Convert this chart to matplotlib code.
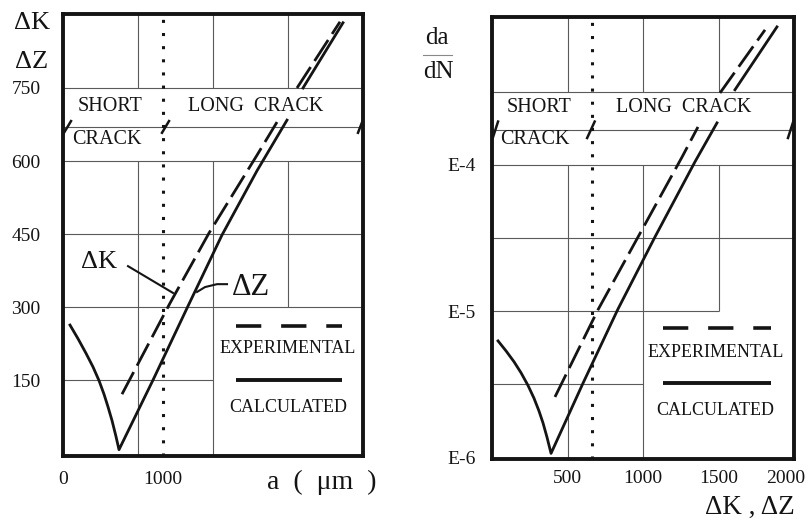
import matplotlib
matplotlib.use("Agg")
import matplotlib.pyplot as plt
from matplotlib.lines import Line2D
from matplotlib.transforms import ScaledTranslation
import numpy as np

plt.rcParams['font.family'] = ['Liberation Serif', 'DejaVu Serif']

INK = '#141414'
GRID = '#5a5a5a'

# ---------------- data: left panel (delta K / delta Z vs crack length a) ----------------
left_xticks = [0, 1000]
left_xticklabels = ['0', '1000']
left_yticks = [150, 300, 450, 600, 750]
left_yticklabels = ['150', '300', '450', '600', '750']

# calculated (solid): V-shaped short crack branch + long crack branch
left_calc_lo_a = [70, 150, 230, 300, 360, 410, 450, 490, 530, 560,
                  900, 1250, 1590, 1940, 2240]
left_calc_lo_v = [263, 235, 205, 177, 149, 121, 95, 67, 34, 7,
                  150, 302, 448, 580, 684]
left_calc_hi_a = [2400, 2800]
left_calc_hi_v = [750, 884]
# experimental (dashed)
left_exp_lo_a = [590, 1070, 1460, 1940, 2140]
left_exp_lo_v = [121, 308, 452, 612, 680]
left_exp_hi_a = [2340, 2770]
left_exp_hi_v = [750, 886]
left_transition = 1000

# ---------------- data: right panel (da/dN vs delta K, delta Z) ----------------
right_xticks = [500, 1000, 1500, 2000]
right_xticklabels = ['500', '1000', '1500', '2000']
right_yticks = [1e-6, 1e-5, 1e-4]
right_yticklabels = ['E-6', 'E-5', 'E-4']

right_calc_lo_x = [40, 93, 146, 192, 238, 278, 311, 338, 364, 391,
                   603, 834, 1079, 1344, 1490]
right_calc_lo_y = [6.24e-6, 5.33e-6, 4.49e-6, 3.78e-6, 3.10e-6, 2.53e-6, 2.07e-6, 1.71e-6, 1.37e-6, 1.06e-6,
                   3.21e-6, 1.03e-5, 3.21e-5, 1.05e-4, 1.94e-4]
right_calc_hi_x = [1609, 1887]
right_calc_hi_y = [3.27e-4, 8.81e-4]
right_exp_lo_x = [417, 702, 967, 1258, 1364]
right_exp_lo_y = [2.58e-6, 1.02e-5, 3.21e-5, 1.13e-4, 1.82e-4]
right_exp_hi_x = [1510, 1808]
right_exp_hi_y = [3.11e-4, 8.41e-4]
right_transition = 660

# ---------------- figure ----------------
W, H = 808, 524
fig = plt.figure(figsize=(W / 100, H / 100), dpi=100)
fig.patch.set_facecolor('white')


def fax(x0, y0, x1, y1):
    return fig.add_axes([x0 / W, 1 - y1 / H, (x1 - x0) / W, (y1 - y0) / H])


CURVE_LW = 2.0
DASH = (0, (9, 2.6))
BAND_FS = 14.5
LEG_FS = 13
TICK_FS = 14

# ======== LEFT ========
axL = fax(63, 14, 363, 456)
axL.set_xlim(0, 3000)
L_lo, L_hi = -6, 902
axL.set_ylim(L_lo, L_hi)
axL.hlines(150, 0, 1500, color=GRID, lw=0.8, zorder=1)
for yv in [300, 450, 600, 670, 750]:
    axL.hlines(yv, 0, 3000, color=GRID, lw=0.8, zorder=1)
for xv in [750, 1500]:
    axL.vlines(xv, L_lo, 600, color=GRID, lw=0.8, zorder=1)
    axL.vlines(xv, 750, L_hi, color=GRID, lw=0.8, zorder=1)
axL.vlines(2250, 300, 600, color=GRID, lw=0.8, zorder=1)
axL.vlines(2250, 750, L_hi, color=GRID, lw=0.8, zorder=1)
axL.axvline(left_transition, color=INK, lw=2.2, ls=(0, (1, 3.3)), zorder=2)
for (xa, xb) in [(10, 80), (990, 1060), (2950, 2995)]:
    axL.plot([xa, xb], [658, 682], color=INK, lw=1.8, zorder=3, clip_on=False)
axL.plot(left_calc_lo_a, left_calc_lo_v, color=INK, lw=CURVE_LW, zorder=4)
axL.plot(left_calc_hi_a, left_calc_hi_v, color=INK, lw=CURVE_LW, zorder=4)
axL.plot(left_exp_lo_a, left_exp_lo_v, color=INK, lw=CURVE_LW, ls=DASH, zorder=4)
axL.plot(left_exp_hi_a, left_exp_hi_v, color=INK, lw=CURVE_LW, ls=DASH, zorder=4)
axL.text(475, 713, 'SHORT', ha='center', va='center', fontsize=BAND_FS, color=INK)
axL.text(95, 645, 'CRACK', ha='left', va='center', fontsize=BAND_FS, color=INK)
axL.text(1930, 713, 'LONG  CRACK', ha='center', va='center', fontsize=BAND_FS, color=INK)
axL.text(360, 392, 'ΔK', ha='center', va='center', fontsize=19, color=INK)
axL.plot([650, 1100], [384, 329], color=INK, lw=1.5, zorder=4)
axL.text(1880, 341, 'ΔZ', ha='center', va='center', fontsize=22, color=INK)
axL.plot([1340, 1420, 1540, 1640], [331, 341, 347, 347], color=INK, lw=1.5, zorder=4)
axL.plot([1730, 2790], [261, 261], color=INK, lw=2.6, ls=(0, (7, 5.5)), solid_capstyle='butt')
axL.text(2250, 214, 'EXPERIMENTAL', ha='center', va='center', fontsize=LEG_FS, color=INK)
axL.plot([1730, 2790], [150, 150], color=INK, lw=2.8, solid_capstyle='butt')
axL.text(2250, 94, 'CALCULATED', ha='center', va='center', fontsize=LEG_FS, color=INK)

axL.set_xticks(left_xticks, left_xticklabels)
axL.set_yticks(left_yticks, left_yticklabels)
axL.tick_params(axis='both', length=0, labelsize=TICK_FS, colors=INK)
axL.tick_params(axis='y', pad=16)
axL.tick_params(axis='x', pad=11)
for s in axL.spines.values():
    s.set_linewidth(2.8)
    s.set_color(INK)

# ======== RIGHT ========
axR = fax(492, 17, 794, 459)
axR.set_yscale('log')
axR.set_xlim(0, 2000)
R_lo, R_hi = 0.97e-6, 1.03e-3
axR.set_ylim(R_lo, R_hi)
yb = 10 ** -3.76
axR.hlines(10 ** -5.5, 0, 1000, color=GRID, lw=0.8, zorder=1)
axR.hlines(1e-5, 0, 1500, color=GRID, lw=0.8, zorder=1)
for yv in [10 ** -4.5, 1e-4, yb, 10 ** -3.5]:
    axR.hlines(yv, 0, 2000, color=GRID, lw=0.8, zorder=1)
for xv in [500, 1000]:
    axR.vlines(xv, R_lo, 1e-4, color=GRID, lw=0.8, zorder=1)
    axR.vlines(xv, 10 ** -3.5, R_hi, color=GRID, lw=0.8, zorder=1)
axR.vlines(1500, 1e-5, 1e-4, color=GRID, lw=0.8, zorder=1)
axR.vlines(1500, 10 ** -3.5, R_hi, color=GRID, lw=0.8, zorder=1)
axR.axvline(right_transition, color=INK, lw=2.2, ls=(0, (1, 3.3)), zorder=2)
for (xa, xb) in [(5, 40), (630, 680), (1960, 1995)]:
    axR.plot([xa, xb], [yb * 0.88, yb * 1.14], color=INK, lw=1.8, zorder=3, clip_on=False)
axR.plot(right_calc_lo_x, right_calc_lo_y, color=INK, lw=CURVE_LW, zorder=4)
axR.plot(right_calc_hi_x, right_calc_hi_y, color=INK, lw=CURVE_LW, zorder=4)
axR.plot(right_exp_lo_x, right_exp_lo_y, color=INK, lw=CURVE_LW, ls=DASH, zorder=4)
axR.plot(right_exp_hi_x, right_exp_hi_y, color=INK, lw=CURVE_LW, ls=DASH, zorder=4)
axR.text(310, 10 ** -3.61, 'SHORT', ha='center', va='center', fontsize=BAND_FS, color=INK)
axR.text(55, 10 ** -3.829, 'CRACK', ha='left', va='center', fontsize=BAND_FS, color=INK)
axR.text(1270, 10 ** -3.61, 'LONG  CRACK', ha='center', va='center', fontsize=BAND_FS, color=INK)
axR.plot([1135, 1850], [10 ** -5.116] * 2, color=INK, lw=2.6, ls=(0, (7, 5.5)), solid_capstyle='butt')
axR.text(1480, 10 ** -5.281, 'EXPERIMENTAL', ha='center', va='center', fontsize=LEG_FS, color=INK)
axR.plot([1135, 1850], [10 ** -5.493] * 2, color=INK, lw=2.8, solid_capstyle='butt')
axR.text(1480, 10 ** -5.678, 'CALCULATED', ha='center', va='center', fontsize=LEG_FS, color=INK)

axR.set_xticks(right_xticks, right_xticklabels)
axR.set_yticks(right_yticks, right_yticklabels)
axR.yaxis.set_minor_locator(matplotlib.ticker.NullLocator())
axR.tick_params(axis='both', which='both', length=0, labelsize=TICK_FS, colors=INK)
axR.tick_params(axis='y', pad=12)
axR.tick_params(axis='x', pad=8)
last_lbl = axR.get_xticklabels()[-1]
last_lbl.set_transform(last_lbl.get_transform() + ScaledTranslation(-8 / 100, 0, fig.dpi_scale_trans))
for s in axR.spines.values():
    s.set_linewidth(2.8)
    s.set_color(INK)

# ======== axis titles ========
fig.text(32 / W, 1 - 23 / H, 'ΔK', ha='center', va='center', fontsize=19, color=INK)
fig.text(32 / W, 1 - 62 / H, 'ΔZ', ha='center', va='center', fontsize=19, color=INK)
fig.text(322 / W, 1 - 482 / H, 'a  (  μm  )', ha='center', va='center', fontsize=20, color=INK)
fig.text(437 / W, 1 - 38 / H, 'da', ha='center', va='center', fontsize=18, color=INK)
fig.text(438 / W, 1 - 72 / H, 'dN', ha='center', va='center', fontsize=18, color=INK)
fig.add_artist(Line2D([423 / W, 452 / W], [1 - 55 / H, 1 - 55 / H], color='#888888', lw=0.8))
fig.text(750 / W, 1 - 507 / H, 'ΔK , ΔZ', ha='center', va='center', fontsize=19.5, color=INK)

fig.savefig('out.png', dpi=100, facecolor='white')
